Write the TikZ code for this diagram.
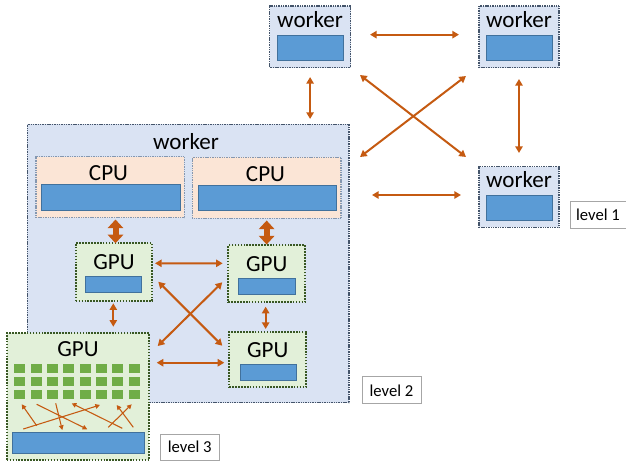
\documentclass[tikz,border=0pt]{standalone}
\usepackage{fontspec}
\setmainfont{Carlito}
\usetikzlibrary{arrows.meta,fit,calc}
\definecolor{wfill}{HTML}{DAE3F3}
\definecolor{wborder}{HTML}{44546A}
\definecolor{cfill}{HTML}{FBE5D6}
\definecolor{cborder}{HTML}{8497B0}
\definecolor{gfill}{HTML}{E2F0D9}
\definecolor{gborder}{HTML}{385723}
\definecolor{barfill}{HTML}{5B9BD5}
\definecolor{barborder}{HTML}{41719C}
\definecolor{corefill}{HTML}{70AD47}
\definecolor{arrcol}{HTML}{C55A11}
\definecolor{lvlborder}{HTML}{A6A6A6}
\begin{document}
\begin{tikzpicture}[x=0.75pt,y=-0.75pt,
  boxbase/.style={inner sep=0pt,outer sep=0pt,rectangle},
  workerbox/.style={boxbase,fill=wfill,draw=wborder,line width=0.8pt,dash pattern=on 0.8pt off 0.5pt},
  cpubox/.style={boxbase,fill=cfill,draw=cborder,line width=0.8pt,dash pattern=on 0.8pt off 0.5pt},
  gpubox/.style={boxbase,fill=gfill,draw=gborder,line width=1.3pt,dash pattern=on 1.2pt off 1pt},
  barbox/.style={boxbase,fill=barfill,draw=barborder,line width=0.5pt},
  lvlbox/.style={boxbase,fill=white,draw=lvlborder,line width=0.6pt},
  bigtxt/.style={inner sep=0pt,anchor=base,font=\fontsize{17.3}{20}\selectfont},
  lvltxt/.style={inner sep=0pt,anchor=base,font=\fontsize{12.5}{15}\selectfont},
  arr/.style={draw=arrcol,line width=1.5pt,{Triangle[length=5pt,width=5.5pt]}-{Triangle[length=5pt,width=5.5pt]}},
  thickarr/.style={draw=arrcol,line width=4.5pt,{Triangle[length=6.5pt,width=11.5pt]}-{Triangle[length=6.5pt,width=11.5pt]}},
  innerarr/.style={draw=arrcol,line width=0.8pt,-{Triangle[length=3.5pt,width=3.5pt]}},
  core/.style={fill=corefill}
]
\useasboundingbox (0,0) rectangle (626,462);

% big worker (level 2)
\node[workerbox,fit={(27.3,124.3) (349,402.7)}] (W) {};
\node[bigtxt] (Wt) at (186,149.3) {worker};

% CPUs
\node[cpubox,fit={(36,156.7) (184.3,217.7)}] (CPU1) {};
\node[bigtxt] (CPU1t) at (108.5,180) {CPU};
\node[barbox,fit={(41,184) (180,210.3)}] (CPU1b) {};
\node[cpubox,fit={(192.3,157.3) (341,218.3)}] (CPU2) {};
\node[bigtxt] (CPU2t) at (265.5,181) {CPU};
\node[barbox,fit={(198.3,185.7) (336,210.7)}] (CPU2b) {};

% GPUs
\node[gpubox,fit={(75.7,243.3) (152.3,300.7)}] (GPU1) {};
\node[bigtxt] (GPU1t) at (114,269.3) {GPU};
\node[barbox,fit={(85.7,276) (141.7,292.3)}] (GPU1b) {};
\node[gpubox,fit={(228.3,245.3) (305,302.3)}] (GPU2) {};
\node[bigtxt] (GPU2t) at (266.7,271.7) {GPU};
\node[barbox,fit={(238.3,278.7) (295,294.7)}] (GPU2b) {};
\node[gpubox,fit={(229.3,331.7) (306,387.3)}] (GPU3) {};
\node[bigtxt] (GPU3t) at (267.7,357.7) {GPU};
\node[barbox,fit={(240,364) (296,380)}] (GPU3b) {};

% big GPU (level 3)
\node[gpubox,fit={(6.7,333.3) (149.3,460)}] (G) {};
\node[bigtxt] (Gt) at (78,356) {GPU};
\node[barbox,fit={(12.7,432) (144,453.3)}] (Gb) {};
\foreach \i in {0,...,7}{
  \foreach \j in {0,1,2}{
    \fill[core] ({14.3+16.35*\i},{364.3+12.7*\j}) rectangle ++(11,9);
  }
}

% other workers
\node[workerbox,fit={(269.5,6) (350.7,67.7)}] (w1) {};
\node[bigtxt] (w1t) at (310.1,27.3) {worker};
\node[barbox,fit={(277.7,35) (343.7,60)}] (w1b) {};
\node[workerbox,fit={(479,6) (559,67.7)}] (w2) {};
\node[bigtxt] (w2t) at (519,27.3) {worker};
\node[barbox,fit={(486,35) (552.3,60)}] (w2b) {};
\node[workerbox,fit={(479,166.7) (559,227.3)}] (w3) {};
\node[bigtxt] (w3t) at (519,187.3) {worker};
\node[barbox,fit={(486,195) (552.3,220)}] (w3b) {};

% level labels
\node[lvlbox,fit={(570,201) (626.5,228)}] (L1) {};
\node[lvltxt] (L1t) at (598,220) {level 1};
\node[lvlbox,fit={(362.3,376.7) (421,403.3)}] (L2) {};
\node[lvltxt] (L2t) at (391.5,396) {level 2};
\node[lvlbox,fit={(160.3,434.3) (219.3,460)}] (L3) {};
\node[lvltxt] (L3t) at (189.7,452.7) {level 3};

% level 1 connectors
\draw[arr] ($(w1.east)+(19.3,-2.2)$) -- ($(w2.west)+(-20,-2.2)$);
\draw[arr] ($(w1.south)+(0,9.3)$) -- ($(w1.south |- W.north)+(0,-5.3)$);
\draw[arr] ($(w2.south)+(0,11.3)$) -- ($(w3.north)+(0,-13.7)$);
\draw[arr] ($(w1.south east)+(9.3,7.3)$) -- ($(w3.north west)+(-13,-9.7)$);
\draw[arr] ($(w2.south west)+(-13,8.3)$) -- ($(W.north east)+(11,32.7)$);
\draw[arr] ($(w3.west -| W.east)+(23,-2)$) -- ($(w3.west)+(-18,-2)$);

% level 2 connectors
\draw[thickarr] ($(GPU1.north |- CPU1.south)+(1.5,1.8)$) -- ($(GPU1.north)+(1.5,0)$);
\draw[thickarr] ($(GPU2.north |- CPU2.south)+(0,2.2)$) -- ($(GPU2.north)+(0,-0.8)$);
\draw[arr] ($(GPU1.east)+(2.7,-8.7)$) -- ($(GPU2.west)+(-5.6,-10.5)$);
\draw[arr] ($(GPU2.south)+(-1,4.4)$) -- ($(GPU3.north)+(-2,-2.7)$);
\draw[arr] ($(GPU1.south)+(-0.7,2.6)$) -- ($(GPU1.south |- G.north)+(-0.7,-6.6)$);
\draw[arr] ($(GPU1.east)+(6,9.7)$) -- ($(GPU3.west)+(-7,-13.8)$);
\draw[arr] ($(GPU2.west)+(-6,8.5)$) -- ($(G.north east)+(8.4,12.7)$);
\draw[arr] ($(G.north east)+(7.4,29.4)$) -- ($(GPU3.west)+(-5,3.2)$);

% level 3 connectors inside big GPU
\begin{scope}[shift={(G.south west)}]
\draw[innerarr] (30,-34.3) -- (15,-55.7);
\draw[innerarr] (16.6,-31) -- (93.3,-55);
\draw[innerarr] (30,-55.7) -- (80.6,-30.7);
\draw[innerarr] (49,-56.7) -- (55.6,-30);
\draw[innerarr] (115.6,-31.7) -- (65,-56.7);
\draw[innerarr] (101.6,-32.7) -- (125,-55.7);
\draw[innerarr] (126.6,-32.7) -- (110,-55);
\end{scope}
\end{tikzpicture}
\end{document}
